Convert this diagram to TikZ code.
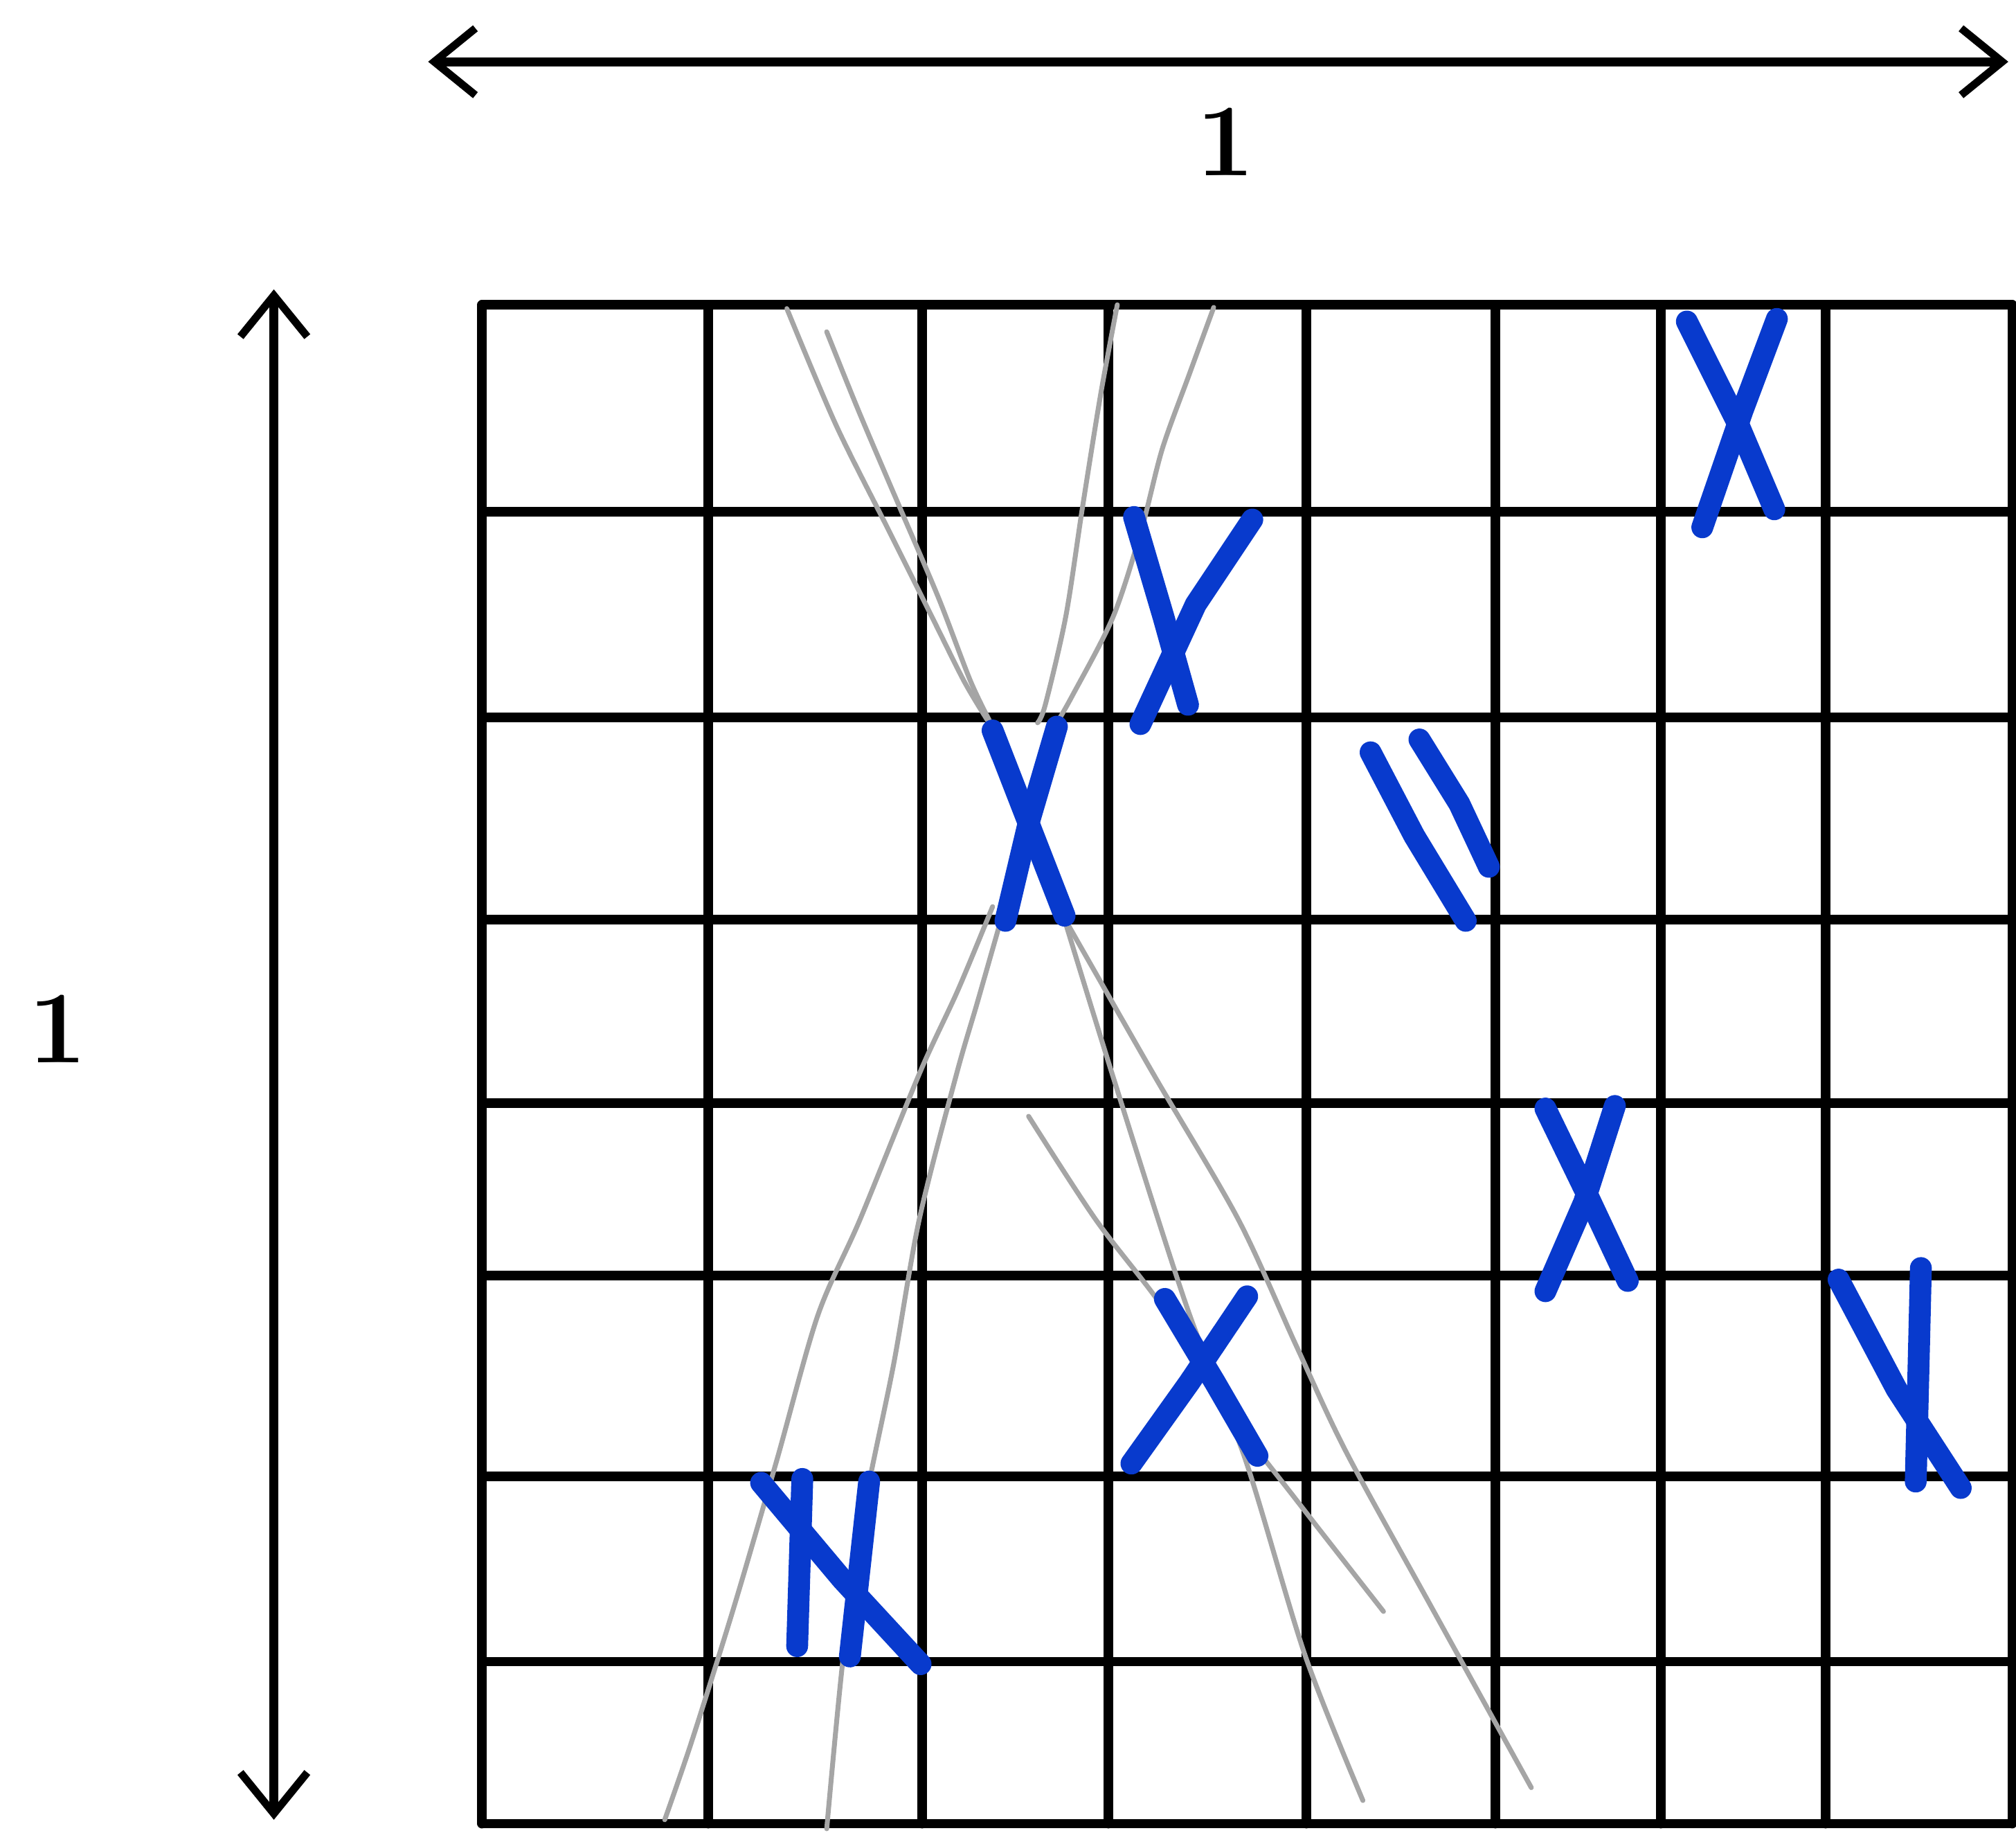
\documentclass[tikz,border=0pt]{standalone}
\usetikzlibrary{arrows.meta}
\definecolor{inkblue}{RGB}{8,58,205}
\definecolor{pencil}{RGB}{165,165,165}
\tikzset{
  gridline/.style={line width=7.5pt, black, line cap=round},
  guide/.style={line width=3.8pt, pencil, line cap=round, line join=round},
  cross/.style={line width=17pt, inkblue, line cap=round, line join=round},
  dim/.style={line width=7pt, black, {Straight Barb[length=32pt,width=52pt,line width=6pt]}-{Straight Barb[length=32pt,width=52pt,line width=6pt]}},
  lbl/.style={font=\fontsize{80}{80}\selectfont\bfseries, inner sep=0pt}
}
\begin{document}
\begin{tikzpicture}[x=1pt,y=-1pt]
\useasboundingbox (0,0) rectangle (1568,1425);
\fill[white] (0,0) rectangle (1568,1425);

% dimension arrows
\coordinate (hL) at (333,48);
\coordinate (hR) at (1562,48);
\coordinate (vT) at (213,225);
\coordinate (vB) at (213,1415);
\draw[dim] (hL) -- (hR);
\draw[dim] (vT) -- (vB);
\node[lbl] (topone) at (953,110) {1};
\node[lbl] (leftone) at (45,800) {1};

% grid
\foreach \x in {375,551,717,862,1016,1163,1292,1420,1565}
  \draw[gridline] (\x,237) -- (\x,1418);
\foreach \y in {237,398,558,715,858,992,1148,1292,1418}
  \draw[gridline] (375,\y) -- (1565,\y);

% pencil guide lines
\draw[guide] plot[smooth, tension=0.5] coordinates {(612,240) (650,330) (690,410) (725,480) (750,530) (768,560)};
\draw[guide] plot[smooth, tension=0.5] coordinates {(643,258) (668,320) (700,395) (730,465) (755,530) (772,565)};
\draw[guide] plot[smooth, tension=0.5] coordinates {(869,237) (856,307) (842,394) (829,479) (813,548) (807,562)};
\draw[guide] plot[smooth, tension=0.5] coordinates {(944,239) (925,291) (904,349) (888,411) (866,479) (834,541) (818,569)};
\draw[guide] plot[smooth, tension=0.5] coordinates {(827,712) (865,835) (923,1016) (969,1136) (1015,1287) (1060,1400)};
\draw[guide] plot[smooth, tension=0.5] coordinates {(829,716) (897,835) (963,948) (1008,1046) (1047,1129) (1113,1249) (1191,1390)};
\draw[guide] plot[smooth, tension=0.5] coordinates {(800,868) (852,948) (904,1016) (956,1098) (1008,1166) (1076,1253)};
\draw[guide] plot[smooth, tension=0.5] coordinates {(772,705) (745,770) (715,835) (669,948) (636,1023) (604,1136) (571,1249) (538,1354) (517,1415)};
\draw[guide] plot[smooth, tension=0.5] coordinates {(780,710) (760,780) (744,835) (715,948) (695,1061) (672,1174) (656,1287) (643,1422)};

% blue marks
\draw[cross] (1312,250) -- (1352,330) -- (1380,396);
\draw[cross] (1382,248) -- (1355,320) -- (1324,410);
\draw[cross] (882,402) -- (905,480) -- (924,548);
\draw[cross] (974,404) -- (930,470) -- (887,563);
\draw[cross] (772,568) -- (800,640) -- (828,712);
\draw[cross] (822,565) -- (800,640) -- (782,716);
\draw[cross] (1066,585) -- (1100,650) -- (1140,716);
\draw[cross] (1104,575) -- (1135,625) -- (1158,674);
\draw[cross] (1202,862) -- (1235,930) -- (1266,996);
\draw[cross] (1256,860) -- (1232,935) -- (1202,1004);
\draw[cross] (906,1010) -- (945,1075) -- (978,1132);
\draw[cross] (970,1008) -- (925,1075) -- (880,1138);
\draw[cross] (1494,986) -- (1492,1070) -- (1490,1152);
\draw[cross] (1430,995) -- (1475,1080) -- (1525,1157);
\draw[cross] (624,1150) -- (620,1280);
\draw[cross] (676,1152) -- (661,1288);
\draw[cross] (592,1153) -- (655,1228) -- (716,1294);
\end{tikzpicture}
\end{document}
